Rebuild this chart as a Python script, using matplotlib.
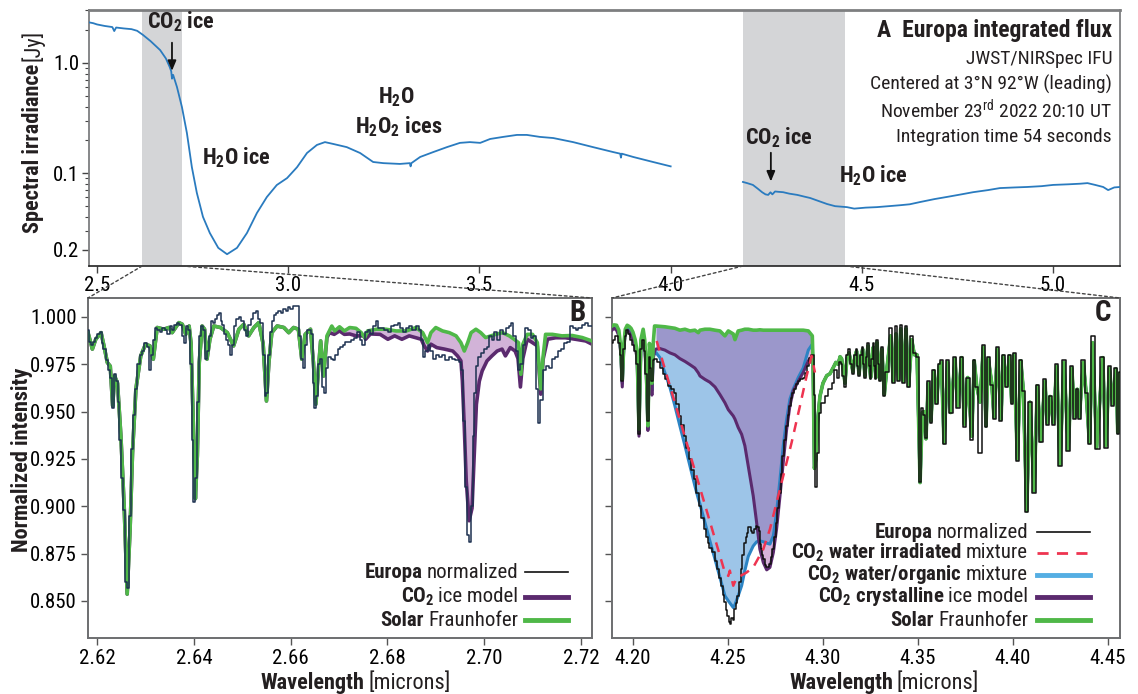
import numpy as np
import matplotlib
matplotlib.use('Agg')
import matplotlib.pyplot as plt
import matplotlib.font_manager as fm
from matplotlib.patches import ConnectionPatch
from matplotlib.lines import Line2D
from matplotlib.ticker import FixedLocator, FixedFormatter, LogLocator, NullFormatter

# ---------------- data ----------------
# Panel A: integrated flux (Jy)
top_wl1 = [2.479, 2.49, 2.50, 2.52, 2.54, 2.545, 2.55, 2.57, 2.59, 2.605, 2.62, 2.64, 2.665,
           2.68, 2.69, 2.694, 2.696, 2.699, 2.709, 2.722, 2.735, 2.748, 2.761, 2.777, 2.795,
           2.817, 2.84, 2.866, 2.892, 2.918, 2.944, 2.97, 2.997, 3.023, 3.049, 3.075, 3.096,
           3.117, 3.153, 3.188, 3.222, 3.249, 3.292, 3.318, 3.320, 3.322, 3.345, 3.379, 3.415,
           3.449, 3.475, 3.502, 3.528, 3.562, 3.598, 3.624, 3.658, 3.693, 3.745, 3.797, 3.85,
           3.868, 3.870, 3.872, 3.902, 3.954, 4.0]
top_fl1 = [2.34, 2.30, 2.24, 2.17, 2.12, 1.95, 2.10, 2.06, 2.03, 1.96, 1.80, 1.58, 1.31,
           1.10, 0.92, 0.84, 0.72, 0.78, 0.605, 0.398, 0.231, 0.113, 0.066, 0.040, 0.0285,
           0.0209, 0.0183, 0.0209, 0.0285, 0.0433, 0.0605, 0.0778, 0.090, 0.113, 0.152, 0.180, 0.191,
           0.184, 0.172, 0.152, 0.126, 0.123, 0.121, 0.123, 0.115, 0.123, 0.140, 0.155, 0.172,
           0.188, 0.191, 0.188, 0.204, 0.213, 0.222, 0.222, 0.213, 0.208, 0.191, 0.172, 0.155,
           0.150, 0.138, 0.150, 0.140, 0.126, 0.115]
top_wl2 = [4.189, 4.20, 4.215, 4.228, 4.239, 4.248, 4.255, 4.261, 4.266, 4.273, 4.282, 4.294,
           4.31, 4.331, 4.35, 4.365, 4.385, 4.409, 4.43, 4.461, 4.48, 4.495, 4.51, 4.539, 4.57,
           4.6, 4.625, 4.652, 4.69, 4.723, 4.76, 4.791, 4.83, 4.861, 4.9, 4.932, 4.97, 5.0,
           5.04, 5.071, 5.09, 5.11, 5.131, 5.144, 5.16, 5.175]
top_fl2 = [0.083, 0.081, 0.078, 0.072, 0.067, 0.064, 0.0633, 0.0668, 0.0640, 0.0680, 0.0675, 0.067,
           0.065, 0.0633, 0.061, 0.0593, 0.056, 0.0523, 0.050, 0.049, 0.0475, 0.048, 0.0485, 0.049, 0.050,
           0.051, 0.052, 0.0545, 0.058, 0.0607, 0.064, 0.067, 0.070, 0.073, 0.074, 0.0747, 0.076, 0.078,
           0.079, 0.080, 0.081, 0.078, 0.0747, 0.070, 0.074, 0.0747]
band_a = [2.618, 2.7225]
band_b = [4.189, 4.4563]
top_xticks = [2.5, 3.0, 3.5, 4.0, 4.5, 5.0]
top_yticks = [1.0, 0.1, 0.02]
top_ylabels = ['1.0', '0.1', '0.2']

# Panel B
solar_b_wl = [2.6181, 2.6190, 2.6197, 2.6208, 2.6214, 2.6221, 2.6227, 2.6232, 2.6236, 2.6242, 2.6249,
              2.6256, 2.6262, 2.6268, 2.6273, 2.6280, 2.6290, 2.6300, 2.6309, 2.6316, 2.6324, 2.6338,
              2.6348, 2.6355, 2.6369, 2.6376, 2.6383, 2.6390, 2.6394, 2.6399, 2.6403, 2.6407, 2.6411,
              2.6417, 2.6422, 2.6427, 2.6433, 2.6441, 2.6455, 2.6469, 2.6482, 2.6493, 2.6503, 2.6513,
              2.6524, 2.6534, 2.6543, 2.6550, 2.6555, 2.6561, 2.6572, 2.6586, 2.6596, 2.6606, 2.6616,
              2.6623, 2.6630, 2.6641, 2.6647, 2.6652, 2.6658, 2.6662, 2.6668, 2.6675, 2.6685, 2.6691,
              2.6701, 2.6711, 2.6722, 2.6735, 2.6746, 2.6753, 2.6759, 2.6777, 2.6797, 2.6818, 2.6839,
              2.6859, 2.6873, 2.6883, 2.6890, 2.6900, 2.6914, 2.6928, 2.6942, 2.6952, 2.6959, 2.6966,
              2.6973, 2.6983, 2.6993, 2.7003, 2.7014, 2.7024, 2.7038, 2.7052, 2.7062, 2.7071, 2.7076,
              2.7080, 2.7089, 2.7100, 2.7110, 2.7117, 2.7122, 2.7127, 2.7141, 2.7161, 2.7182, 2.7203,
              2.7213, 2.7223]
solar_b = [0.9917, 0.983, 0.9882, 0.9917, 0.9847, 0.9759, 0.974, 0.953, 0.9688, 0.965, 0.937,
           0.8985, 0.8536, 0.888, 0.9283, 0.9618, 0.9794, 0.9856, 0.9847, 0.9777, 0.9944, 0.9935,
           0.9944, 0.9917, 0.997, 0.9961, 0.9908, 0.9952, 0.986, 0.9407, 0.904, 0.9266, 0.976,
           0.9952, 0.9935, 0.9777, 0.9882, 0.9952, 0.9944, 0.9917, 0.9847, 0.9935, 0.9961, 0.990,
           0.9944, 0.997, 0.986, 0.9556, 0.976, 0.9917, 0.9952, 0.9944, 0.9917, 0.9944, 0.9935,
           0.9777, 0.9908, 0.9935, 0.976, 0.9539, 0.974, 0.9873, 0.9688, 0.990, 0.9952, 0.9926,
           0.9948, 0.9926, 0.9944, 0.994, 0.9917, 0.9891, 0.9926, 0.9935, 0.9935, 0.9926, 0.9926,
           0.9944, 0.9917, 0.9864, 0.9917, 0.9944, 0.9926, 0.9917, 0.990, 0.9864, 0.982, 0.9864,
           0.9917, 0.9935, 0.9917, 0.9891, 0.990, 0.9908, 0.9917, 0.990, 0.9882, 0.9864, 0.9697,
           0.9856, 0.9908, 0.9908, 0.9864, 0.962, 0.9794, 0.9908, 0.9908, 0.990, 0.9902, 0.9891,
           0.9882, 0.9873]
# CO2 ice model where it departs from the solar spectrum (>= 2.6675 um)
co2_b_wl = [2.6675, 2.6680, 2.6690, 2.6701, 2.6711, 2.6722, 2.6735, 2.6751, 2.6755, 2.6765, 2.6785,
            2.6801, 2.6815, 2.6830, 2.6845, 2.6859, 2.6870, 2.6876, 2.6883, 2.6890, 2.6902, 2.6918,
            2.6935, 2.6945, 2.6952, 2.6955, 2.6959, 2.6963, 2.6969, 2.6975, 2.6979, 2.6984, 2.6990,
            2.6996, 2.7006, 2.7016, 2.7027, 2.7037, 2.7044, 2.7054, 2.7064, 2.7070, 2.7075, 2.7080,
            2.7089, 2.7100, 2.7110, 2.7117, 2.7122, 2.7131, 2.7148, 2.7168, 2.7189, 2.7210, 2.7223]
co2_b = [0.989, 0.9917, 0.9908, 0.9926, 0.9908, 0.991, 0.990, 0.990, 0.9882, 0.991, 0.9908,
         0.9882, 0.990, 0.9882, 0.990, 0.989, 0.9882, 0.9847, 0.982, 0.9856, 0.9838, 0.983,
         0.982, 0.9794, 0.9768, 0.9662, 0.9415, 0.9134, 0.8923, 0.899, 0.9239, 0.9538, 0.966,
         0.9715, 0.9768, 0.9794, 0.982, 0.983, 0.9794, 0.9838, 0.982, 0.978, 0.963, 0.978,
         0.9882, 0.9864, 0.9847, 0.9592, 0.9777, 0.9882, 0.989, 0.989, 0.9882, 0.9873, 0.9856]
europa_b_wl = [2.6181, 2.6184, 2.6190, 2.6194, 2.6198, 2.6203, 2.6208, 2.6211, 2.6215, 2.6220, 2.6224,
               2.6228, 2.6232, 2.6236, 2.6240, 2.6244, 2.6248, 2.6252, 2.6256, 2.6260, 2.6264, 2.6268,
               2.6272, 2.6276, 2.6280, 2.6285, 2.6290, 2.6295, 2.6300, 2.6305, 2.6310, 2.6314, 2.6318,
               2.6322, 2.6327, 2.6332, 2.6337, 2.6342, 2.6347, 2.6352, 2.6357, 2.6362, 2.6367, 2.6372,
               2.6377, 2.6381, 2.6385, 2.6390, 2.6394, 2.6397, 2.6401, 2.6405, 2.6409, 2.6413, 2.6417,
               2.6421, 2.6425, 2.6429, 2.6433, 2.6437, 2.6441, 2.6445, 2.6449, 2.6453, 2.6457, 2.6461,
               2.6465, 2.6469, 2.6473, 2.6477, 2.6481, 2.6485, 2.6490, 2.6495, 2.6500, 2.6505, 2.6510,
               2.6515, 2.6520, 2.6525, 2.6530, 2.6535, 2.6540, 2.6544, 2.6548, 2.6552, 2.6556, 2.6560,
               2.6564, 2.6568, 2.6572, 2.6577, 2.6582, 2.6587, 2.6592, 2.6597, 2.6602, 2.6607, 2.6612,
               2.6616, 2.6620, 2.6623, 2.6627, 2.6631, 2.6635, 2.6640, 2.6644, 2.6647, 2.6651, 2.6655,
               2.6659, 2.6663, 2.6667, 2.6671, 2.6675, 2.6680, 2.6685, 2.6690, 2.6695, 2.6700, 2.6705,
               2.6710, 2.6716, 2.6722, 2.6728, 2.6734, 2.6740, 2.6746, 2.6751, 2.6756, 2.6762, 2.6768,
               2.6774, 2.6778, 2.6783, 2.6790, 2.6797, 2.6804, 2.6811, 2.6818, 2.6824, 2.6830, 2.6836,
               2.6842, 2.6848, 2.6855, 2.6862, 2.6868, 2.6872, 2.6876, 2.6881, 2.6886, 2.6892, 2.6897,
               2.6903, 2.6910, 2.6917, 2.6923, 2.6930, 2.6937, 2.6944, 2.6950, 2.6955, 2.6959, 2.6963,
               2.6967, 2.6971, 2.6975, 2.6978, 2.6981, 2.6985, 2.6990, 2.6996, 2.7002, 2.7008, 2.7013,
               2.7018, 2.7024, 2.7030, 2.7036, 2.7042, 2.7048, 2.7054, 2.7058, 2.7063, 2.7067, 2.7072,
               2.7077, 2.7082, 2.7087, 2.7093, 2.7099, 2.7104, 2.7109, 2.7114, 2.7119, 2.7125, 2.7131,
               2.7137, 2.7143, 2.7149, 2.7156, 2.7162, 2.7168, 2.7174, 2.7180, 2.7186, 2.7192, 2.7198,
               2.7205, 2.7212, 2.7218, 2.7223]
europa_b = [0.993, 0.987, 0.985, 0.987, 0.989, 0.991, 0.992, 0.986, 0.983, 0.977, 0.972,
            0.968, 0.952, 0.970, 0.966, 0.955, 0.935, 0.915, 0.898, 0.860, 0.857, 0.895,
            0.930, 0.948, 0.962, 0.975, 0.980, 0.982, 0.986, 0.984, 0.972, 0.980, 0.988,
            0.994, 0.993, 0.992, 0.994, 0.993, 0.991, 0.995, 0.993, 0.996, 0.997, 0.996,
            0.990, 0.986, 0.995, 0.993, 0.975, 0.935, 0.902, 0.915, 0.955, 0.990, 0.995,
            0.993, 0.978, 0.982, 0.990, 0.998, 0.997, 0.999, 1.001, 1.002, 0.998, 0.996,
            0.991, 0.988, 0.985, 0.980, 0.985, 0.995, 0.999, 1.000, 0.998, 0.993, 0.990,
            0.996, 0.999, 1.002, 1.003, 0.999, 0.997, 0.980, 0.958, 0.960, 0.980, 0.992,
            0.998, 1.001, 1.002, 1.003, 1.002, 1.004, 1.003, 1.005, 1.004, 1.006, 1.006,
            1.006, 0.990, 0.978, 0.973, 0.985, 0.993, 0.993, 0.991, 0.965, 0.952, 0.958,
            0.975, 0.978, 0.963, 0.960, 0.973, 0.979, 0.978, 0.977, 0.980, 0.983, 0.984,
            0.985, 0.987, 0.987, 0.988, 0.989, 0.992, 0.988, 0.985, 0.992, 0.993, 0.991,
            0.995, 0.998, 0.994, 0.994, 0.993, 0.992, 0.995, 0.996, 0.997, 0.994, 0.992,
            0.994, 0.995, 0.993, 0.995, 0.993, 0.988, 0.979, 0.982, 0.985, 0.982, 0.978,
            0.980, 0.979, 0.980, 0.977, 0.979, 0.978, 0.977, 0.976, 0.972, 0.945, 0.910,
            0.885, 0.881, 0.900, 0.937, 0.960, 0.974, 0.979, 0.981, 0.983, 0.984, 0.990,
            0.988, 0.992, 0.988, 0.993, 0.991, 0.994, 0.995, 0.997, 0.990, 0.982, 0.972,
            0.975, 0.985, 0.994, 0.993, 0.989, 0.990, 0.962, 0.944, 0.956, 0.972, 0.974,
            0.973, 0.978, 0.979, 0.982, 0.983, 0.986, 0.987, 0.995, 0.994, 0.993, 0.994,
            0.996, 0.997, 0.995, 0.995]
b_xticks = [2.62, 2.64, 2.66, 2.68, 2.70, 2.72]
yticks_bc = [0.850, 0.875, 0.900, 0.925, 0.950, 0.975, 1.000]

# Panel C: short-wave side of the band (all models)
c_pre_wl = [4.1890, 4.1900, 4.1914, 4.1926, 4.1935, 4.1944, 4.1952, 4.1960, 4.1970, 4.1980, 4.1990,
            4.2000, 4.2012, 4.2022, 4.2032, 4.2042, 4.2054, 4.2062, 4.2070, 4.2079, 4.2087, 4.2094,
            4.2100, 4.2107, 4.2114]
solar_c_pre = [0.9952, 0.9958, 0.9956, 0.993, 0.985, 0.967, 0.985, 0.9935, 0.9956, 0.995, 0.994,
               0.992, 0.988, 0.982, 0.9407, 0.988, 0.9935, 0.988, 0.975, 0.9425, 0.986, 0.978,
               0.965, 0.986, 0.9952]
cryst_c_pre = [0.993, 0.994, 0.993, 0.990, 0.982, 0.963, 0.983, 0.991, 0.993, 0.992, 0.990,
               0.988, 0.984, 0.978, 0.937, 0.984, 0.989, 0.984, 0.970, 0.940, 0.980, 0.972,
               0.9587, 0.978, 0.982]
organic_c_pre = [0.994, 0.995, 0.994, 0.991, 0.983, 0.965, 0.984, 0.992, 0.994, 0.993, 0.991,
                 0.989, 0.985, 0.980, 0.939, 0.985, 0.990, 0.985, 0.972, 0.941, 0.982, 0.974,
                 0.961, 0.979, 0.981]
europa_c_pre = [0.986, 0.988, 0.990, 0.986, 0.980, 0.966, 0.983, 0.990, 0.993, 0.991, 0.988,
                0.985, 0.982, 0.975, 0.938, 0.983, 0.988, 0.982, 0.970, 0.945, 0.979, 0.973,
                0.966, 0.977, 0.978]
# Panel C: CO2 band
c_band_wl = [4.2121, 4.2142, 4.2168, 4.2195, 4.2221, 4.2247, 4.2274, 4.2300, 4.2326, 4.2344, 4.2353,
             4.2379, 4.2405, 4.2432, 4.2458, 4.2484, 4.2502, 4.2528, 4.2537, 4.2554, 4.2572, 4.2589,
             4.2607, 4.2633, 4.2651, 4.2668, 4.2686, 4.2704, 4.2721, 4.2739, 4.2756, 4.2774, 4.2791,
             4.2809, 4.2826, 4.2844, 4.2870, 4.2896, 4.2923, 4.2944]
solar_c_band = [0.9952, 0.995, 0.9948, 0.9944, 0.994, 0.993, 0.9935, 0.9926, 0.993, 0.9917, 0.993,
                0.9935, 0.9935, 0.993, 0.9926, 0.990, 0.9926, 0.991, 0.988, 0.9926, 0.993, 0.9935,
                0.9935, 0.993, 0.993, 0.9932, 0.993, 0.993, 0.993, 0.993, 0.993, 0.993, 0.993,
                0.993, 0.993, 0.993, 0.993, 0.993, 0.9926, 0.990]
cryst_c_band = [0.983, 0.9833, 0.9825, 0.981, 0.980, 0.978, 0.9765, 0.9748, 0.973, 0.9705, 0.9688,
                0.967, 0.9655, 0.963, 0.959, 0.9547, 0.951, 0.9477, 0.946, 0.9416, 0.938, 0.932,
                0.9213, 0.9055, 0.8914, 0.8773, 0.8703, 0.8664, 0.8677, 0.8756, 0.8879, 0.9055, 0.9231,
                0.9407, 0.953, 0.961, 0.966, 0.9706, 0.9768, 0.9794]
organic_c_band = [0.9812, 0.9785, 0.9706, 0.9627, 0.953, 0.9425, 0.9319, 0.9213, 0.9108, 0.904, 0.9011,
                  0.8914, 0.8817, 0.872, 0.8624, 0.8527, 0.850, 0.8465, 0.848, 0.8527, 0.858, 0.866,
                  0.8735, 0.879, 0.8812, 0.8817, 0.8812, 0.8805, 0.880, 0.8844, 0.8967, 0.9143, 0.9319,
                  0.946, 0.9565, 0.962, 0.968, 0.973, 0.9825, 0.9856]
europa_c_band_wl = [4.2121, 4.2135, 4.2151, 4.2165, 4.2177, 4.2195, 4.2208, 4.2221, 4.2234, 4.2247,
                    4.2260, 4.2274, 4.2287, 4.2300, 4.2313, 4.2326, 4.2340, 4.2353, 4.2366, 4.2379,
                    4.2390, 4.2396, 4.2410, 4.2423, 4.2436, 4.2449, 4.2458, 4.2467, 4.2476, 4.2484,
                    4.2493, 4.2502, 4.2508, 4.2514, 4.2521, 4.2528, 4.2537, 4.2546, 4.2554, 4.2563,
                    4.2572, 4.2580, 4.2589, 4.2596, 4.2602, 4.2609, 4.2616, 4.2625, 4.2633, 4.2642,
                    4.2651, 4.2658, 4.2665, 4.2671, 4.2677, 4.2683, 4.2689, 4.2696, 4.2704, 4.2712,
                    4.2721, 4.2730, 4.2739, 4.2747, 4.2756, 4.2765, 4.2774, 4.2782, 4.2791, 4.2800,
                    4.2809, 4.2818, 4.2826, 4.2835, 4.2844, 4.2852, 4.2861, 4.2875, 4.2888, 4.2900,
                    4.2914, 4.2923, 4.2932, 4.2944]
europa_c_band = [0.9777, 0.976, 0.973, 0.970, 0.967, 0.9636, 0.962, 0.960, 0.954, 0.9477,
                 0.943, 0.937, 0.931, 0.9249, 0.919, 0.9143, 0.907, 0.9002, 0.894, 0.8879,
                 0.884, 0.8808, 0.878, 0.8756, 0.871, 0.8668, 0.862, 0.858, 0.853, 0.8492,
                 0.845, 0.8421, 0.839, 0.8377, 0.841, 0.840, 0.8456, 0.849, 0.8527, 0.860,
                 0.8668, 0.874, 0.8808, 0.884, 0.886, 0.889, 0.8888, 0.887, 0.886, 0.888,
                 0.8896, 0.889, 0.887, 0.880, 0.8773, 0.874, 0.872, 0.869, 0.8677, 0.868,
                 0.8694, 0.873, 0.8773, 0.884, 0.8914, 0.899, 0.9072, 0.917, 0.9266, 0.935,
                 0.9425, 0.948, 0.953, 0.957, 0.960, 0.962, 0.9645, 0.966, 0.967, 0.968,
                 0.9706, 0.974, 0.9785, 0.980]
irrad_c_wl = [4.2125, 4.2484, 4.2502, 4.2510, 4.2528, 4.2545, 4.2598, 4.2633, 4.2686, 4.2721,
              4.2756, 4.2791, 4.2835, 4.2879, 4.2914, 4.2940, 4.2958]
irrad_c = [0.9873, 0.865, 0.8632, 0.866, 0.858, 0.862, 0.865, 0.8677, 0.8773, 0.8879,
           0.902, 0.916, 0.9336, 0.953, 0.9688, 0.9794, 0.9706]
# Panel C: long-wave side (Fraunhofer forest)
c_post_wl = [4.2948, 4.2955, 4.2963, 4.2972, 4.2984, 4.3000, 4.3020, 4.3037, 4.3053, 4.3068, 4.3080,
             4.3090, 4.3098, 4.3107, 4.3116, 4.3126, 4.3137, 4.3148, 4.3158, 4.3168, 4.3177, 4.3184,
             4.3190, 4.3200, 4.3209, 4.3215, 4.3221, 4.3229, 4.3237, 4.3244, 4.3251, 4.3258, 4.3265,
             4.3272, 4.3279, 4.3284, 4.3292, 4.3300, 4.3310, 4.3323, 4.3335, 4.3356, 4.3370, 4.3384,
             4.3398, 4.3409, 4.3423, 4.3437, 4.3451, 4.3467, 4.3481, 4.3495, 4.3511, 4.3523, 4.3532,
             4.3542, 4.3554, 4.3568, 4.3584, 4.3598, 4.3612, 4.3623, 4.3637, 4.3656, 4.3672, 4.3695,
             4.3709, 4.3730, 4.3744, 4.3762, 4.3783, 4.3796, 4.3809, 4.3826, 4.3844, 4.3858, 4.3870,
             4.3888, 4.3900, 4.3918, 4.3937, 4.3949, 4.3967, 4.3981, 4.3993, 4.4005, 4.4023, 4.4041,
             4.4054, 4.4072, 4.4089, 4.4111, 4.4128, 4.4146, 4.4168, 4.4181, 4.4195, 4.4212, 4.4230,
             4.4247, 4.4268, 4.4291, 4.4309, 4.4326, 4.4338, 4.4349, 4.4370, 4.4384, 4.4402, 4.4419,
             4.4440, 4.4472, 4.4488, 4.4507, 4.4525, 4.4542, 4.4551, 4.4563]
solar_c_post = [0.975, 0.920, 0.925, 0.945, 0.958, 0.965, 0.969, 0.970, 0.973, 0.976, 0.975,
                0.979, 0.978, 0.972, 0.965, 0.978, 0.981, 0.976, 0.971, 0.979, 0.982, 0.975,
                0.970, 0.979, 0.983, 0.976, 0.969, 0.978, 0.9847, 0.975, 0.968, 0.977, 0.984,
                0.975, 0.968, 0.9864, 0.976, 0.967, 0.983, 0.959, 0.9715, 0.990, 0.966, 0.991,
                0.967, 0.9937, 0.966, 0.9937, 0.9636, 0.988, 0.980, 0.980, 0.9125, 0.9495, 0.950,
                0.9356, 0.965, 0.945, 0.9715, 0.9547, 0.974, 0.976, 0.9336, 0.976, 0.9495, 0.978,
                0.953, 0.9785, 0.9433, 0.968, 0.937, 0.9768, 0.9636, 0.955, 0.984, 0.9425, 0.978,
                0.965, 0.947, 0.983, 0.946, 0.9794, 0.9636, 0.9794, 0.955, 0.980, 0.9249, 0.9768,
                0.9618, 0.8976, 0.955, 0.908, 0.9636, 0.9345, 0.966, 0.944, 0.958, 0.944, 0.974,
                0.922, 0.976, 0.930, 0.973, 0.947, 0.9618, 0.947, 0.976, 0.961, 0.9336, 0.9864,
                0.931, 0.9785, 0.932, 0.973, 0.9539, 0.9725, 0.939, 0.970]
europa_c_post = [0.980, 0.959, 0.910, 0.928, 0.9495, 0.9547, 0.958, 0.962, 0.965, 0.972, 0.968,
                 0.976, 0.975, 0.969, 0.963, 0.980, 0.983, 0.975, 0.970, 0.980, 0.983, 0.974,
                 0.969, 0.980, 0.984, 0.975, 0.968, 0.979, 0.986, 0.974, 0.967, 0.978, 0.986,
                 0.974, 0.967, 0.988, 0.975, 0.966, 0.984, 0.958, 0.971, 0.9944, 0.965, 0.995,
                 0.966, 0.9958, 0.965, 0.995, 0.963, 0.990, 0.981, 0.979, 0.913, 0.952, 0.948,
                 0.936, 0.966, 0.944, 0.972, 0.954, 0.975, 0.977, 0.933, 0.977, 0.949, 0.979,
                 0.952, 0.979, 0.942, 0.968, 0.935, 0.977, 0.963, 0.928, 0.985, 0.942, 0.979,
                 0.964, 0.946, 0.984, 0.945, 0.980, 0.963, 0.980, 0.954, 0.981, 0.924, 0.977,
                 0.961, 0.897, 0.955, 0.907, 0.964, 0.934, 0.967, 0.943, 0.958, 0.943, 0.975,
                 0.921, 0.977, 0.929, 0.974, 0.946, 0.962, 0.946, 0.977, 0.960, 0.933, 0.990,
                 0.930, 0.979, 0.931, 0.974, 0.953, 0.973, 0.938, 0.971]
c_xticks = [4.20, 4.25, 4.30, 4.35, 4.40, 4.45]

# ---------------- font choice (prefer a condensed sans) ----------------
entries = fm.fontManager.ttflist
names = {f.name for f in entries}
FAM, STRETCH, SCALE = None, 'normal', 1.0
for n in ['Liberation Sans Narrow', 'Roboto Condensed', 'Open Sans Condensed', 'Noto Sans Condensed',
          'DejaVu Sans Condensed', 'Arial Narrow', 'Nimbus Sans Narrow']:
    if n in names:
        FAM = n
        break
if FAM is None:
    for n in ['Noto Sans', 'Roboto', 'Open Sans', 'DejaVu Sans']:
        if any(f.name == n and str(f.stretch) in ('condensed', 'semi-condensed', 'extra-condensed')
               for f in entries):
            FAM, STRETCH = n, 'condensed'
            break
if FAM is None:
    narrow = sorted(f.name for f in entries if ('Narrow' in f.name or 'Condensed' in f.name))
    if narrow:
        FAM = narrow[0]
if FAM is None:
    FAM, SCALE = 'Liberation Sans', 0.86

plt.rcParams['font.family'] = [FAM, 'DejaVu Sans']
plt.rcParams['font.stretch'] = STRETCH
plt.rcParams['mathtext.fontset'] = 'custom'
plt.rcParams['mathtext.rm'] = f'{FAM}:stretch={STRETCH}'
plt.rcParams['mathtext.it'] = f'{FAM}:style=italic:stretch={STRETCH}'
plt.rcParams['mathtext.bf'] = f'{FAM}:weight=bold:stretch={STRETCH}'
TXT = '#231f20'
plt.rcParams['text.color'] = TXT


def fs(v):
    return v * SCALE


C_TOP = '#2a7bbf'
C_BAND = '#d4d5d7'
C_EUR_B = '#1c3050'
C_PURPLE = '#5b2a6e'
C_GREEN = '#4fb848'
C_FILL_B = '#d2b3d8'
C_FILL_PB = '#9b97cb'
C_FILL_LB = '#9dc5e8'
C_FILL_PK = '#d7b3d9'
C_BLUE = '#2c84c4'
C_BLUE_LEG = '#55aee3'
C_RED = '#ee3450'
SPINE = '#6d6e70'

W, H = 1138, 694
fig = plt.figure(figsize=(W / 100, H / 100), dpi=100)


def fx(x):
    return x / W


def fy(y):
    return 1 - y / H


def px_axes(l, t, r, b):
    return fig.add_axes([fx(l), fy(b), (r - l) / W, (b - t) / H])


axA = px_axes(89, 10, 1120, 266)
axB = px_axes(88, 298, 592, 638)
axC = px_axes(612, 298, 1120, 638)

# ---------------- panel A ----------------
axA.set_yscale('log')
axA.set_xlim(2.479, 5.175)
axA.set_ylim(0.0143, 3.03)
for b in (band_a, band_b):
    axA.axvspan(b[0], b[1], color=C_BAND, zorder=0, lw=0)
axA.plot(top_wl1, top_fl1, color=C_TOP, lw=1.3, zorder=3)
axA.plot(top_wl2, top_fl2, color=C_TOP, lw=1.3, zorder=3)
axA.xaxis.set_major_locator(FixedLocator(top_xticks))
axA.set_xticklabels([f'{v:.1f}' for v in top_xticks])
axA.yaxis.set_major_locator(FixedLocator(top_yticks))
axA.yaxis.set_major_formatter(FixedFormatter(top_ylabels))
axA.yaxis.set_minor_locator(LogLocator(base=10, subs=np.arange(2, 10) * 1.0))
axA.yaxis.set_minor_formatter(NullFormatter())
axA.tick_params(axis='both', which='major', labelsize=fs(15), direction='out', length=5, width=1,
                color='#444444', pad=2)
axA.tick_params(axis='y', which='minor', direction='out', length=3, width=0.8, color='#444444')
for s in ('top', 'left', 'right'):
    axA.spines[s].set_color('#7d7e80')
    axA.spines[s].set_linewidth(1.3)
axA.spines['top'].set_linewidth(2)
axA.spines['bottom'].set_color('#222222')
axA.spines['bottom'].set_linewidth(1.2)

bold_kw = dict(fontweight='bold', fontsize=fs(16), color=TXT)
axA.text(2.72, 2.36, r'CO$_\mathbf{2}$ ice', ha='center', va='center', **bold_kw)
axA.annotate('', xy=(2.696, 0.80), xytext=(2.696, 1.62),
             arrowprops=dict(arrowstyle='-|>,head_length=0.6,head_width=0.25', color='#111', lw=1.3))
axA.text(2.864, 0.137, r'H$_\mathbf{2}$O ice', ha='center', va='center', **bold_kw)
axA.text(3.283, 0.49, r'H$_\mathbf{2}$O', ha='center', va='center', **bold_kw)
axA.text(3.29, 0.262, r'H$_\mathbf{2}$O$_\mathbf{2}$ ices', ha='center', va='center', **bold_kw)
axA.text(4.283, 0.208, r'CO$_\mathbf{2}$ ice', ha='center', va='center', **bold_kw)
axA.annotate('', xy=(4.262, 0.079), xytext=(4.262, 0.162),
             arrowprops=dict(arrowstyle='-|>,head_length=0.6,head_width=0.25', color='#111', lw=1.3))
axA.text(4.529, 0.094, r'H$_\mathbf{2}$O ice', ha='center', va='center', **bold_kw)

xr = (1112 - 89) / 1031
axA.text(xr, (266 - 30) / 256, r'A  Europa integrated flux', ha='right', va='center',
         transform=axA.transAxes, fontweight='bold', fontsize=fs(17))
info = ['JWST/NIRSpec IFU', 'Centered at 3°N 92°W (leading)',
        r'November 23$^{\mathrm{rd}}$ 2022 20:10 UT', 'Integration time 54 seconds']
for txt, yy in zip(info, [59, 84, 110, 137]):
    axA.text(xr, (266 - yy) / 256, txt, ha='right', va='center', transform=axA.transAxes,
             fontsize=fs(14))

# ---------------- panel B ----------------
axB.set_xlim(2.6181, 2.7223)
axB.set_ylim(0.8304, 1.010)
gx = [x for x in solar_b_wl if x >= 2.6675]
gy = [y for x, y in zip(solar_b_wl, solar_b) if x >= 2.6675]
axB.fill(np.r_[gx, co2_b_wl[::-1]], np.r_[gy, co2_b[::-1]], color=C_FILL_B, lw=0, zorder=1)
co2_full_wl = [x for x in solar_b_wl if x < 2.6675] + co2_b_wl
co2_full = [y for x, y in zip(solar_b_wl, solar_b) if x < 2.6675] + co2_b
axB.plot(co2_full_wl, co2_full, color=C_PURPLE, lw=2.6, zorder=2, solid_joinstyle='round')
axB.plot(solar_b_wl, solar_b, color=C_GREEN, lw=2.6, zorder=3, solid_joinstyle='round')
axB.plot(europa_b_wl, europa_b, color=C_EUR_B, lw=1.1, drawstyle='steps-mid', zorder=4)
axB.set_xticks(b_xticks)
axB.set_xticklabels([f'{v:.2f}' for v in b_xticks])
axB.set_yticks(yticks_bc)
axB.set_yticklabels([f'{v:.3f}' for v in yticks_bc])
axB.text(0.972, 0.956, 'B', transform=axB.transAxes, ha='center', va='center',
         fontweight='bold', fontsize=fs(21))

# ---------------- panel C ----------------
axC.set_xlim(4.189, 4.4563)
axC.set_ylim(0.8304, 1.010)
bw = np.array(c_band_wl)
g = np.array(solar_c_band)
p = np.array(cryst_c_band)
o = np.array(organic_c_band)
axC.fill_between(bw, p, g, color=C_FILL_PB, lw=0, zorder=1)
axC.fill_between(bw, o, p, where=p >= o, interpolate=True, color=C_FILL_LB, lw=0, zorder=1)
axC.fill_between(bw, p, o, where=o >= p, interpolate=True, color=C_FILL_PK, lw=0, zorder=1)

model_wl = c_pre_wl + c_band_wl + c_post_wl
organic_all = organic_c_pre + organic_c_band + solar_c_post
cryst_all = cryst_c_pre + cryst_c_band + solar_c_post
solar_all = solar_c_pre + solar_c_band + solar_c_post
europa_wl = c_pre_wl + europa_c_band_wl + c_post_wl
europa_all = europa_c_pre + europa_c_band + europa_c_post
axC.plot(model_wl, organic_all, color=C_BLUE, lw=2.2, zorder=2, solid_joinstyle='round')
axC.plot(model_wl, cryst_all, color=C_PURPLE, lw=2.2, zorder=3, solid_joinstyle='round')
axC.plot(model_wl, solar_all, color=C_GREEN, lw=2.6, zorder=4, solid_joinstyle='round')
axC.plot(europa_wl, europa_all, color='#111111', lw=1.1, drawstyle='steps-mid', zorder=5)
axC.plot(irrad_c_wl, irrad_c, color=C_RED, lw=1.8, ls=(0, (4, 3)), zorder=6)
axC.set_xticks(c_xticks)
axC.set_xticklabels([f'{v:.2f}' for v in c_xticks])
axC.set_yticks(yticks_bc)
axC.set_yticklabels([])
axC.text(0.967, 0.956, 'C', transform=axC.transAxes, ha='center', va='center',
         fontweight='bold', fontsize=fs(21))

for ax in (axB, axC):
    for s in ax.spines.values():
        s.set_color(SPINE)
        s.set_linewidth(1.4)
    ax.tick_params(axis='both', labelsize=fs(15), direction='out', length=5, width=1,
                   color='#555555', pad=3)

# ---------------- connectors ----------------
ylo = axA.get_ylim()[0]
for xa, axp, xb in [(band_a[0], axB, 0), (band_a[1], axB, 1), (band_b[0], axC, 0), (band_b[1], axC, 1)]:
    con = ConnectionPatch(xyA=(xa, ylo), coordsA=axA.transData, xyB=(xb, 1), coordsB=axp.transAxes,
                          color='#444444', lw=1.0, ls=(0, (2, 2)))
    fig.add_artist(con)

# ---------------- axis labels ----------------
lab = dict(fontsize=fs(16))
fig.text(fx(33), fy(64), 'Spectral irradiance', rotation=90, ha='center', va='top',
         fontweight='bold', **lab)
fig.text(fx(33), fy(61), '[Jy]', rotation=90, ha='center', va='bottom', **lab)
fig.text(fx(22), fy(460), 'Normalized intensity', rotation=90, ha='center', va='center',
         fontweight='bold', **lab)
for split in (364, 893):
    fig.text(fx(split), fy(683), 'Wavelength', ha='right', va='center', fontweight='bold', **lab)
    fig.text(fx(split + 4), fy(683), '[microns]', ha='left', va='center', **lab)


# ---------------- legends ----------------
def legend_row(ax, y, xr_txt, bold, regular, x0, x1, **line_kw):
    t = fig.text(fx(xr_txt), fy(y), regular, ha='right', va='center', fontsize=fs(15))
    ax.annotate(bold, xy=(0, 0.5), xycoords=t, xytext=(-4, 0), textcoords='offset pixels',
                ha='right', va='center', fontsize=fs(15), fontweight='bold',
                annotation_clip=False, clip_on=False)
    fig.add_artist(Line2D([fx(x0), fx(x1)], [fy(y), fy(y)], transform=fig.transFigure, **line_kw))


legend_row(axB, 572, 518, 'Europa', 'normalized', 525, 568, color='#111111', lw=1.2)
legend_row(axB, 597, 518, r'CO$_\mathbf{2}$', 'ice model', 525, 568, color=C_PURPLE, lw=3.5)
legend_row(axB, 620, 518, 'Solar', 'Fraunhofer', 525, 568, color=C_GREEN, lw=3.5)

legend_row(axC, 532, 1028, 'Europa', 'normalized', 1037, 1090, color='#111111', lw=1.2)
legend_row(axC, 553, 1028, r'CO$_\mathbf{2}$ water irradiated', 'mixture', 1037, 1090, color=C_RED,
           lw=2, ls=(0, (4, 3)))
legend_row(axC, 575, 1028, r'CO$_\mathbf{2}$ water/organic', 'mixture', 1037, 1090, color=C_BLUE_LEG,
           lw=3.5)
legend_row(axC, 597, 1028, r'CO$_\mathbf{2}$ crystalline', 'ice model', 1037, 1090, color=C_PURPLE,
           lw=3.5)
legend_row(axC, 620, 1028, 'Solar', 'Fraunhofer', 1037, 1090, color=C_GREEN, lw=3.5)

fig.savefig('out.png', dpi=100)
